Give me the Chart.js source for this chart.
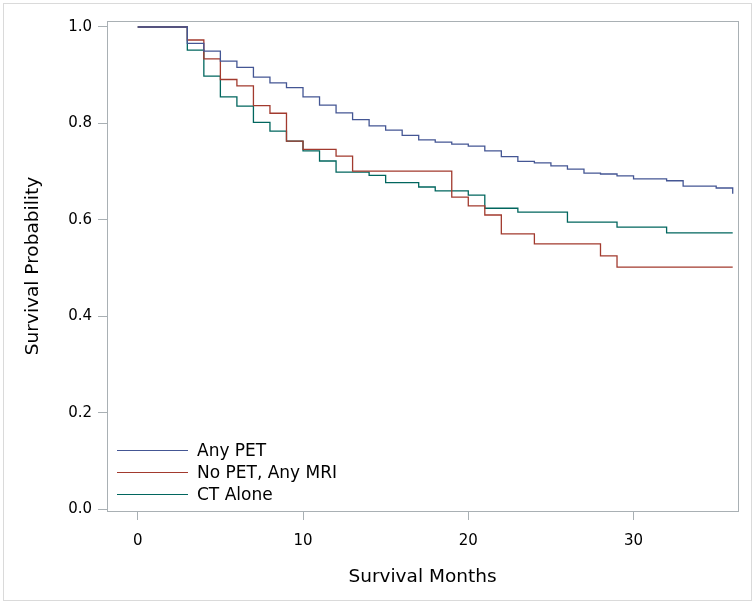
<!DOCTYPE html>
<html>
<head>
<meta charset="utf-8">
<script src="https://cdn.jsdelivr.net/npm/chart.js@4/dist/chart.umd.min.js"></script>
<style>
  html, body { margin: 0; padding: 0; background: #fff; }
  #wrap { width: 755px; height: 604px; position: relative; }
</style>
</head>
<body>
<div id="wrap"><canvas id="c" width="755" height="604"></canvas></div>
<script>
// Step points: month at which the survival estimate changes, and the value after it
const petMonths  = [0, 3, 4, 5, 6, 7, 8, 9, 10, 11, 12, 13, 14, 15, 16, 17, 18, 19, 20, 21, 22, 23, 24, 25, 26, 27, 28, 29, 30, 32, 33, 35, 36];
const petSurv    = [1.0, 0.966, 0.950, 0.929, 0.916, 0.896, 0.884, 0.874, 0.855, 0.838, 0.822, 0.808, 0.795, 0.786, 0.775, 0.766, 0.761, 0.757, 0.753, 0.743, 0.731, 0.721, 0.718, 0.712, 0.705, 0.697, 0.695, 0.691, 0.685, 0.681, 0.670, 0.666, 0.654];

const mriMonths  = [0, 3, 4, 5, 6, 7, 8, 9, 10, 12, 13, 19, 20, 21, 22, 24, 28, 29, 36];
const mriSurv    = [1.0, 0.973, 0.934, 0.891, 0.878, 0.837, 0.821, 0.763, 0.746, 0.732, 0.701, 0.647, 0.629, 0.610, 0.571, 0.550, 0.525, 0.502, 0.502];

const ctMonths   = [0, 3, 4, 5, 6, 7, 8, 9, 10, 11, 12, 14, 15, 17, 18, 20, 21, 23, 26, 29, 32, 36];
const ctSurv     = [1.0, 0.952, 0.898, 0.855, 0.836, 0.802, 0.784, 0.763, 0.743, 0.722, 0.699, 0.692, 0.677, 0.668, 0.660, 0.651, 0.624, 0.616, 0.595, 0.585, 0.573, 0.573];

const seriesNames = ["Any PET", "No PET, Any MRI", "CT Alone"];
const xTicks = [0, 10, 20, 30];
const yTicks = [0.0, 0.2, 0.4, 0.6, 0.8, 1.0];

const FONT = "'DejaVu Sans', sans-serif";
const COLORS = ["#445694", "#A23A2E", "#01665E"];
const FRAME = "#A9B0B4";

function pts(xs, ys) { return xs.map((x, i) => ({ x: x, y: ys[i] })); }

const framePlugin = {
  id: 'frame',
  beforeDraw(chart) {
    const ctx = chart.ctx;
    ctx.save();
    ctx.fillStyle = '#fff';
    ctx.fillRect(0, 0, chart.width, chart.height);
    ctx.strokeStyle = '#DADADA';
    ctx.lineWidth = 1;
    ctx.strokeRect(3.5, 3.5, chart.width - 7, chart.height - 7);
    ctx.restore();
  },
  afterDraw(chart) {
    const ctx = chart.ctx;
    const a = chart.chartArea;
    ctx.save();
    ctx.strokeStyle = FRAME;
    ctx.lineWidth = 1;
    ctx.strokeRect(Math.round(a.left) + 0.5, Math.round(a.top) + 0.5, Math.round(a.right - a.left), Math.round(a.bottom - a.top));
    // inside legend
    const x0 = 117, x1 = 188, tx = 197, y0 = 450, dy = 22;
    ctx.font = "17px " + FONT;
    ctx.textBaseline = 'middle';
    ctx.textAlign = 'left';
    chart.data.datasets.forEach((ds, i) => {
      const y = y0 + i * dy + 0.5;
      ctx.strokeStyle = ds.borderColor;
      ctx.lineWidth = 1.2;
      ctx.beginPath();
      ctx.moveTo(x0, y);
      ctx.lineTo(x1, y);
      ctx.stroke();
      ctx.fillStyle = '#000';
      ctx.fillText(ds.label, tx, y + 1);
    });
    ctx.restore();
  }
};

new Chart(document.getElementById('c'), {
  type: 'line',
  data: {
    datasets: [
      { label: seriesNames[0], data: pts(petMonths, petSurv), borderColor: COLORS[0] },
      { label: seriesNames[1], data: pts(mriMonths, mriSurv), borderColor: COLORS[1] },
      { label: seriesNames[2], data: pts(ctMonths, ctSurv), borderColor: COLORS[2] }
    ].map(d => Object.assign(d, { stepped: 'before', borderWidth: 1.3, pointRadius: 0, fill: false, tension: 0 }))
  },
  options: {
    responsive: false,
    animation: false,
    events: [],
    layout: { padding: { left: 0, top: 21, right: 17, bottom: 0 } },
    plugins: { legend: { display: false }, tooltip: { enabled: false } },
    scales: {
      x: {
        type: 'linear',
        min: -1.86,
        max: 36.32,
        afterBuildTicks(axis) { axis.ticks = xTicks.map(v => ({ value: v })); },
        afterFit(axis) { axis.height = 93; },
        grid: { display: true, drawOnChartArea: false, drawTicks: true, tickLength: 9, color: FRAME },
        border: { display: false },
        ticks: { color: '#000', font: { family: FONT, size: 15 }, padding: 12, maxRotation: 0 },
        title: { display: true, text: 'Survival Months', color: '#000', font: { family: FONT, size: 18.5 }, padding: { top: 0, bottom: 16 } }
      },
      y: {
        type: 'linear',
        min: -0.0041,
        max: 1.0124,
        afterBuildTicks(axis) { axis.ticks = yTicks.map(v => ({ value: v })); },
        afterFit(axis) { axis.width = 107; },
        grid: { display: true, drawOnChartArea: false, drawTicks: true, tickLength: 9, color: FRAME },
        border: { display: false },
        ticks: { color: '#000', font: { family: FONT, size: 15 }, padding: 6, callback: v => v.toFixed(1) },
        title: { display: true, text: 'Survival Probability', color: '#000', font: { family: FONT, size: 18.5 }, padding: { top: 22, bottom: 0 } }
      }
    }
  },
  plugins: [framePlugin]
});
</script>
</body>
</html>
